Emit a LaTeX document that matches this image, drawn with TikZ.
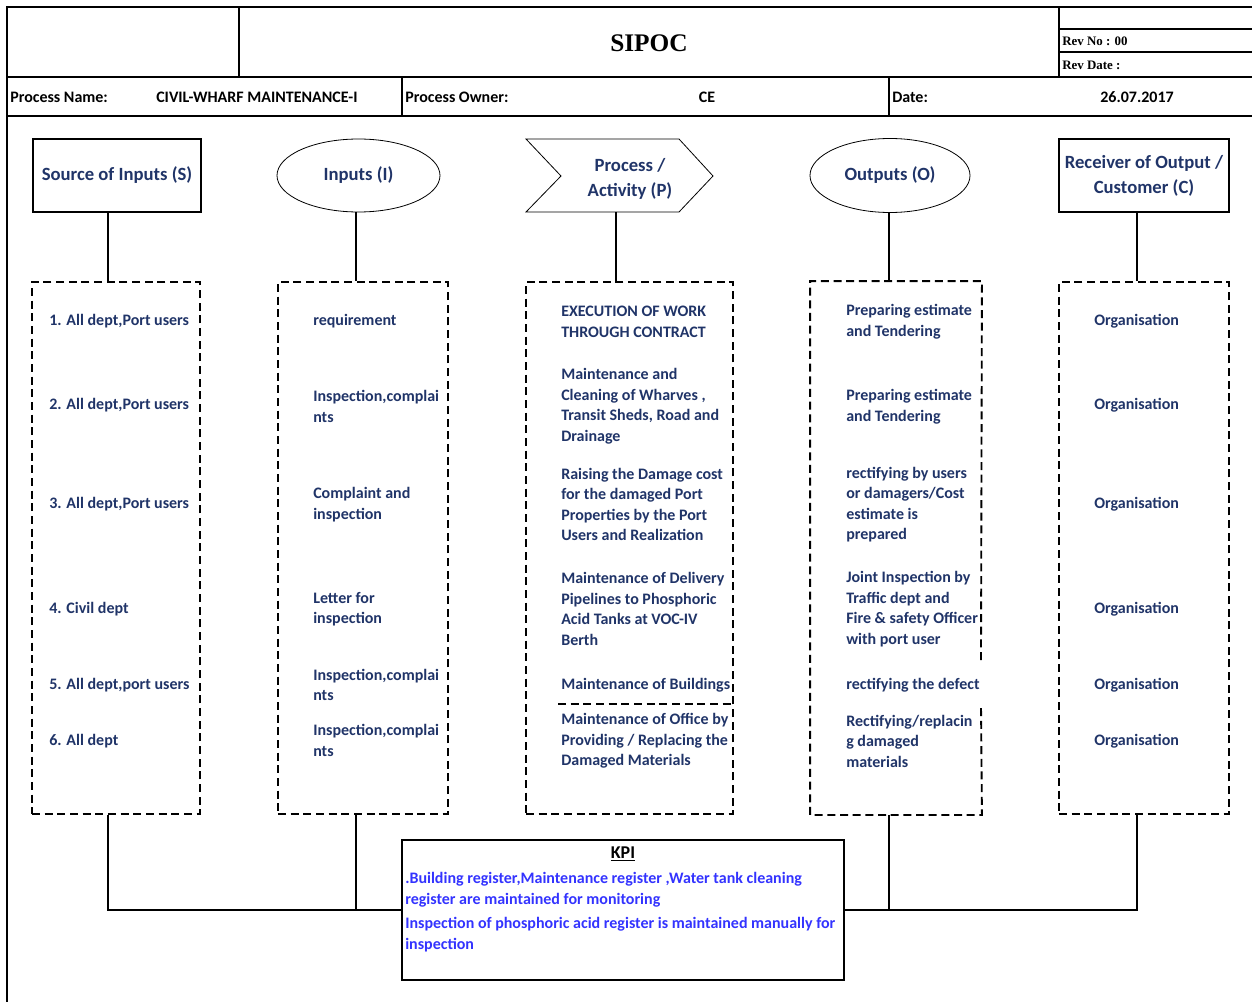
\documentclass[tikz,border=0pt]{standalone}
\usepackage{fontspec}
\setmainfont{Carlito}
\newfontfamily\headserif{Liberation Serif}
\usetikzlibrary{shapes.geometric}
\definecolor{navy}{RGB}{32,52,104}
\definecolor{kpiblue}{RGB}{51,51,255}

\begin{document}
\begin{tikzpicture}[x=0.75pt,y=-0.75pt,
  frame/.style={line width=1.5pt},
  link/.style={line width=1.4pt},
  colbox/.style={dash pattern=on 6pt off 3.5pt, line width=1.4pt,
    minimum height=399pt, inner sep=0pt},
  headlabel/.style={font=\bfseries\fontsize{14}{18.75}\selectfont, text=navy, align=center},
  item/.style={font=\bfseries\fontsize{12}{15.4}\selectfont, text=navy, align=left,
    anchor=west, inner sep=0pt, yshift=-1.2pt},
  rowtext/.style={font=\bfseries\fontsize{12}{14}\selectfont, anchor=west, inner sep=0pt},
  revtext/.style={font=\headserif\bfseries\fontsize{9.7}{11}\selectfont, anchor=west, inner sep=0pt},
  kpitext/.style={font=\bfseries\fontsize{12}{15.75}\selectfont, text=kpiblue, align=left,
    anchor=west, inner sep=0pt, yshift=-1pt}
]
\useasboundingbox (0,0) rectangle (1252,1002);

% ---------- title block ----------
\draw[frame] (1252,7) -- (7,7) -- (7,1002);
\draw[frame] (7,77) -- (1252,77);
\draw[frame] (7,116) -- (1252,116);
\draw[frame] (239,7) -- (239,77);
\draw[frame] (1059,7) -- (1059,77);
\draw[frame] (1059,29) -- (1252,29);
\draw[frame] (1059,52) -- (1252,52);
\draw[frame] (402,77) -- (402,116);
\draw[frame] (889,77) -- (889,116);

\node[font=\headserif\bfseries\fontsize{19}{22}\selectfont] (title) at (649,43) {SIPOC};
\node[revtext] (revno) at (1062,41) {Rev No : 00};
\node[revtext] (revdate) at (1062,65) {Rev Date :};

\node[rowtext] (pnamelbl) at (10,97.5) {Process Name:};
\node[rowtext] (pname) at (156,97.5) {CIVIL-WHARF MAINTENANCE-I};
\node[rowtext] (pownerlbl) at (405,97.5) {Process Owner:};
\node[rowtext, anchor=center] (powner) at (707,97.5) {CE};
\node[rowtext] (datelbl) at (892,97.5) {Date:};
\node[rowtext, anchor=center] (date) at (1137,97.5) {26.07.2017};

% ---------- column heads ----------
\node[draw, line width=0.8pt, minimum width=126pt, minimum height=54.75pt, headlabel]
  (srcH) at (117,175.5) {\raisebox{-1.5pt}{Source of Inputs (S)}};
\node[draw, ellipse, line width=0.6pt, minimum width=122.25pt, minimum height=54.75pt,
  inner sep=0pt, headlabel] (inH) at (358.5,175.5) {\raisebox{-1.5pt}{Inputs (I)}};
\draw[line width=0.6pt] (526,139) -- (679,139) -- (713,176) -- (679,212) -- (526,212)
  -- (561,176) -- cycle;
\node[headlabel, yshift=-1.5pt] (procH) at (630,176.5) {Process /\\Activity (P)};
\node[draw, ellipse, line width=0.6pt, minimum width=120pt, minimum height=55.5pt,
  inner sep=0pt, headlabel] (outH) at (890,175.5) {\raisebox{-1.5pt}{Outputs (O)}};
\node[draw, line width=0.8pt, minimum width=127.5pt, minimum height=54.75pt, headlabel]
  (recH) at (1144,175.5) {Receiver of Output /\\Customer (C)};

% ---------- dashed column boxes ----------
\node[colbox, draw, minimum width=126pt] (srcB) at (116,548) {};
\node[colbox, draw, minimum width=127.5pt] (inB) at (363,548) {};
\node[colbox, draw, minimum width=155.25pt] (procB) at (629.5,548) {};
\node[colbox, minimum width=127.5pt] (outB) at (896,548) {};
\node[colbox, draw, minimum width=127.5pt] (recB) at (1144,548) {};

% outputs box: right side left open beside "rectifying the defect"
\coordinate (gapTop) at (981,660);
\coordinate (gapBot) at (981,705);
\draw[colbox] (gapTop) -- (outB.north east) -- (outB.north west) -- (outB.south west)
  -- (outB.south east) -- (gapBot);
% divider inside the process box
\coordinate (divL) at (558,704);
\draw[colbox] (divL) -- (divL -| procB.east);

% ---------- vertical taps ----------
\coordinate (tapS) at (108,212);
\coordinate (tapI) at (356,212);
\coordinate (tapP) at (616,212);
\coordinate (tapO) at (889,212);
\coordinate (tapC) at (1137,212);
\draw[link] (tapS) -- (tapS |- srcB.north);
\draw[link] (tapI) -- (tapI |- inB.north);
\draw[link] (tapP) -- (tapP |- procB.north);
\draw[link] (tapO) -- (tapO |- outB.north);
\draw[link] (tapC) -- (tapC |- recB.north);

% ---------- KPI ----------
\node[draw, line width=1.5pt, minimum width=331.5pt, minimum height=105pt, inner sep=0pt]
  (kpi) at (623,910) {};
\node[font=\bfseries\fontsize{13.5}{15}\selectfont, inner sep=0pt] (kpititle) at (623,854)
  {\underline{KPI}};
\node[kpitext] (kpi1) at (405,888.5)
  {.Building register,Maintenance register ,Water tank cleaning\\register are maintained for monitoring};
\node[kpitext] (kpi2) at (405,933)
  {Inspection of phosphoric acid register is maintained manually for\\inspection};

\draw[link] (tapS |- srcB.south) |- (kpi.west);
\draw[link] (tapI |- inB.south) -- (tapI |- kpi.west);
\draw[link] (tapC |- recB.south) |- (kpi.east);
\draw[link] (tapO |- outB.south) -- (tapO |- kpi.east);

% ---------- suppliers ----------
\node[item] (s1) at (49,320) {1. All dept,Port users};
\node[item] (s2) at (49,404) {2. All dept,Port users};
\node[item] (s3) at (49,503) {3. All dept,Port users};
\node[item] (s4) at (49,608) {4. Civil dept};
\node[item] (s5) at (49,684) {5. All dept,port users};
\node[item] (s6) at (49,740) {6. All dept};

% ---------- inputs ----------
\node[item] (i1) at (313,320) {requirement};
\node[item] (i2) at (313,405) {Inspection,complai\\nts};
\node[item] (i3) at (313,503) {Complaint and\\inspection};
\node[item] (i4) at (313,607.5) {Letter for\\inspection};
\node[item] (i5) at (313,683.5) {Inspection,complai\\nts};
\node[item] (i6) at (313,739) {Inspection,complai\\nts};

% ---------- process ----------
\node[item] (p1) at (561,320) {EXECUTION OF WORK\\THROUGH CONTRACT};
\node[item] (p2) at (561,404.5) {Maintenance and\\Cleaning of Wharves ,\\Transit Sheds, Road and\\Drainage};
\node[item] (p3) at (561,503) {Raising the Damage cost\\for the damaged Port\\Properties by the Port\\Users and Realization};
\node[item] (p4) at (561,607.5) {Maintenance of Delivery\\Pipelines to Phosphoric\\Acid Tanks at VOC-IV\\Berth};
\node[item] (p5) at (561,684) {Maintenance of Buildings};
\node[item] (p6) at (561,739.5) {Maintenance of Office by\\Providing / Replacing the\\Damaged Materials};

% ---------- outputs ----------
\node[item] (o1) at (846,320) {Preparing estimate\\and Tendering};
\node[item] (o2) at (846,405) {Preparing estimate\\and Tendering};
\node[item] (o3) at (846,503) {rectifying by users\\or damagers/Cost\\estimate is\\prepared};
\node[item] (o4) at (846,607.5) {Joint Inspection by\\Traffic dept and\\Fire \& safety Officer\\with port user};
\node[item] (o5) at (846,684) {rectifying the defect};
\node[item] (o6) at (846,739.5) {Rectifying/replacin\\g damaged\\materials};

% ---------- customers ----------
\node[item] (c1) at (1094,320) {Organisation};
\node[item] (c2) at (1094,404) {Organisation};
\node[item] (c3) at (1094,503) {Organisation};
\node[item] (c4) at (1094,608) {Organisation};
\node[item] (c5) at (1094,684) {Organisation};
\node[item] (c6) at (1094,740) {Organisation};
\end{tikzpicture}
\end{document}
